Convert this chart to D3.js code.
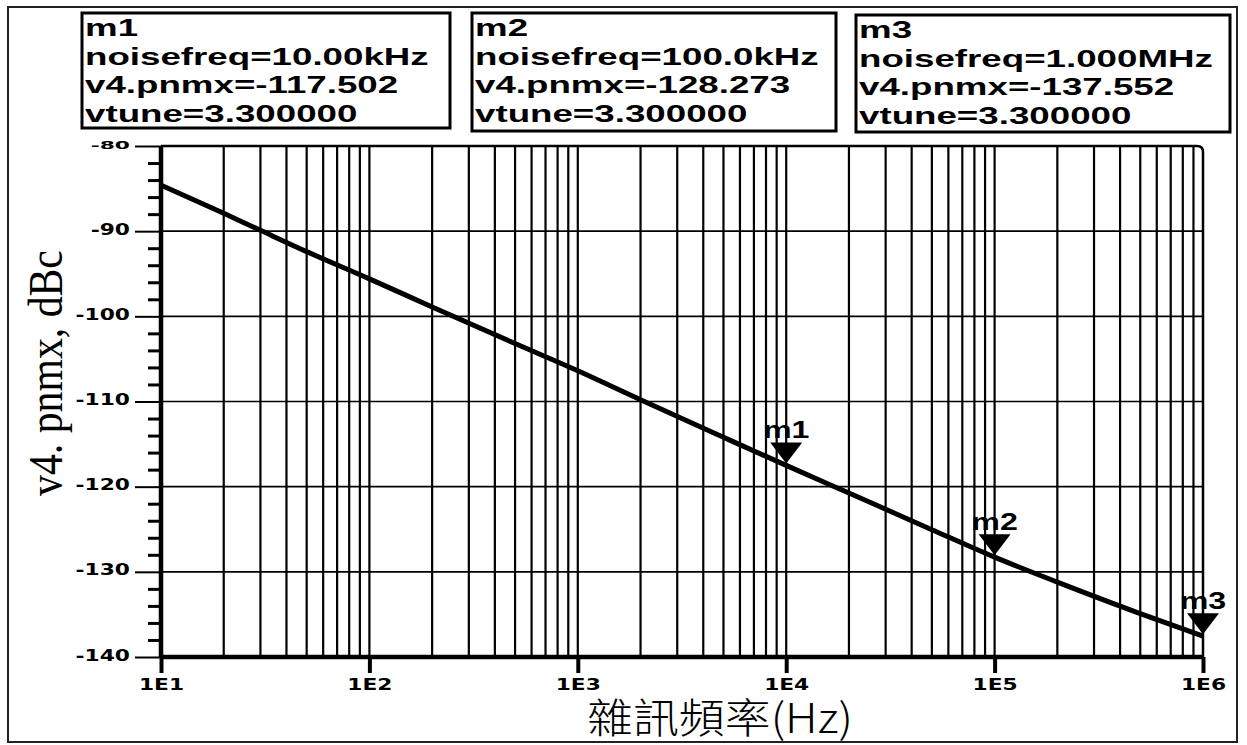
<!DOCTYPE html>
<html>
<head>
<meta charset="utf-8">
<script src="https://cdn.jsdelivr.net/npm/d3@7"></script>
<style>
  body { margin: 0; background: #fff; }
  svg { display: block; }
</style>
</head>
<body>
<svg id="chart" width="1247" height="745"></svg>
<script>
// Phase-noise sweep of v4.pnmx versus offset (noise) frequency
const freqHz  = [10, 20, 30, 50, 100, 200, 500, 1e3, 2e3, 5e3, 1e4, 2e4, 5e4, 1e5, 2e5, 5e5, 1e6];
const pnmxDbc = [-84.6, -87.9, -89.9, -92.4, -95.6, -98.9, -103.2, -106.4, -109.8, -114.2,
                 -117.502, -120.75, -125.05, -128.273, -131.2, -134.9, -137.552];

// Markers
const markerNames    = ["m1", "m2", "m3"];
const markerFreq     = [1e4, 1e5, 1e6];
const markerFreqText = ["10.00kHz", "100.0kHz", "1.000MHz"];
const markerValue    = [-117.502, -128.273, -137.552];
const vtune = 3.3;

// Axis ticks
const yTicks      = [-80, -90, -100, -110, -120, -130, -140];
const xDecades    = [1e1, 1e2, 1e3, 1e4, 1e5, 1e6];
const xTickLabels = ["1E1", "1E2", "1E3", "1E4", "1E5", "1E6"];

const svg = d3.select("#chart");
const plot = { left: 161, right: 1203, top: 146, bottom: 657 };

const x = d3.scaleLog().domain([10, 1e6]).range([plot.left, plot.right]);
const y = d3.scaleLinear().domain([-140, -80]).range([plot.bottom, plot.top]);

const sans = "'Liberation Sans', Arial, sans-serif";
const tickFont = "'DejaVu Sans', Verdana, sans-serif";
const wide = 1.53;     // readout font is drawn horizontally stretched
const tickWide = 1.36; // tick label stretch

// Outer frame
svg.append("rect")
  .attr("x", 8).attr("y", 7).attr("width", 1229).attr("height", 735)
  .attr("fill", "none").attr("stroke", "#222").attr("stroke-width", 2);

// Vertical grid at every 1..9 x decade
const gridX = x.ticks().filter(f => f > 10 && f < 1e6);
svg.append("g").selectAll("line").data(gridX).join("line")
  .attr("x1", d => x(d)).attr("x2", d => x(d))
  .attr("y1", plot.top).attr("y2", plot.bottom)
  .attr("stroke", "#000").attr("stroke-width", 2.2);

// Horizontal grid every 10 dB
svg.append("g").selectAll("line").data(yTicks.filter(v => v > -140 && v < -80)).join("line")
  .attr("x1", plot.left).attr("x2", plot.right)
  .attr("y1", d => y(d)).attr("y2", d => y(d))
  .attr("stroke", "#000").attr("stroke-width", 1.6);

// Top and right frame with rounded corner
const r = 6;
svg.append("path")
  .attr("d", `M${plot.left},${plot.top} H${plot.right - r} Q${plot.right},${plot.top} ${plot.right},${plot.top + r} V${plot.bottom}`)
  .attr("fill", "none").attr("stroke", "#000").attr("stroke-width", 2.5);

// Minor y ticks every 2 dB
const yMinor = d3.range(-138, -80, 2).filter(v => v % 10 !== 0);
const gMinor = svg.append("g").attr("transform", `translate(${plot.left},0)`)
  .call(d3.axisLeft(y).tickValues(yMinor).tickSize(13).tickFormat(""));
gMinor.select(".domain").remove();
gMinor.selectAll(".tick line").attr("stroke", "#000").attr("stroke-width", 3);

// Major y axis
const gy = svg.append("g").attr("transform", `translate(${plot.left},0)`)
  .call(d3.axisLeft(y).tickValues(yTicks).tickSize(26).tickPadding(5).tickFormat(d => String(d)));
gy.select(".domain").attr("stroke", "#000").attr("stroke-width", 4.5)
  .attr("d", `M0,${plot.top}V${plot.bottom}`);
gy.selectAll(".tick line").attr("stroke", "#000").attr("stroke-width", 2);
gy.selectAll(".tick text").each(function (d) {
  const t = d3.select(this);
  const tx = +t.attr("x");
  // top label sits tight under the readout boxes and is squeezed vertically
  const sy = d === -80 ? 0.68 : 1;
  t.attr("x", 0).attr("dy", null).attr("y", 0)
    .attr("transform", `translate(${tx},${d === -80 ? 2 : 3}) scale(${tickWide},${sy})`)
    .attr("font-family", tickFont).attr("font-weight", "bold").attr("font-size", 16)
    .attr("fill", "#000");
});

// x axis
const gx = svg.append("g").attr("transform", `translate(0,${plot.bottom})`)
  .call(d3.axisBottom(x).tickValues(xDecades).tickSize(16).tickPadding(0)
    .tickFormat((d, i) => xTickLabels[i]));
gx.select(".domain").attr("stroke", "#000").attr("stroke-width", 4.5)
  .attr("d", `M${plot.left},0H${plot.right}`);
gx.selectAll(".tick line").attr("stroke", "#000").attr("stroke-width", 4);
gx.selectAll(".tick text")
  .attr("y", 0).attr("dy", null)
  .attr("transform", `translate(0,33) scale(${tickWide},1)`)
  .attr("font-family", tickFont).attr("font-weight", "bold").attr("font-size", 16)
  .attr("fill", "#000");

// Phase-noise curve
const line = d3.line().x((d, i) => x(freqHz[i])).y(d => y(d)).curve(d3.curveMonotoneX);
svg.append("path").datum(pnmxDbc)
  .attr("d", line)
  .attr("fill", "none").attr("stroke", "#000").attr("stroke-width", 5)
  .attr("stroke-linejoin", "round");

// Marker triangles with names
const gm = svg.append("g");
markerNames.forEach((name, i) => {
  const px = x(markerFreq[i]), py = y(markerValue[i]) - 2;
  const p = d3.path();
  p.moveTo(px, py); p.lineTo(px - 16, py - 21); p.lineTo(px + 16, py - 21); p.closePath();
  gm.append("path").attr("d", p.toString()).attr("fill", "#000");
  gm.append("text")
    .attr("transform", `translate(${px},${py - 25}) scale(1.4,1)`)
    .attr("text-anchor", "middle")
    .attr("font-family", sans).attr("font-weight", "bold").attr("font-size", 23).attr("fill", "#000")
    .text(name);
});

// Marker readout boxes
const boxes = [
  { x: 82,  y: 13, w: 368, h: 115 },
  { x: 472, y: 13, w: 364, h: 118 },
  { x: 856, y: 15, w: 374, h: 117 }
];
markerNames.forEach((name, i) => {
  const b = boxes[i];
  const g = svg.append("g");
  g.append("rect").attr("x", b.x).attr("y", b.y).attr("width", b.w).attr("height", b.h)
    .attr("fill", "#fff").attr("stroke", "#000").attr("stroke-width", 3);
  const lines = [
    name,
    `noisefreq=${markerFreqText[i]}`,
    `v4.pnmx=${markerValue[i].toFixed(3)}`,
    `vtune=${vtune.toFixed(6)}`
  ];
  g.selectAll("text").data(lines).join("text")
    .attr("transform", (d, k) => `translate(${b.x + 3},${b.y + 23 + k * 28.7}) scale(${wide},1)`)
    .attr("font-family", sans).attr("font-weight", "bold").attr("font-size", 24).attr("fill", "#000")
    .text(d => d);
});

// Axis titles
svg.append("text")
  .attr("transform", "translate(62,373) rotate(-90) scale(0.87,1)")
  .attr("text-anchor", "middle")
  .attr("font-family", "'Liberation Serif', 'Times New Roman', serif")
  .attr("font-size", 48).attr("fill", "#000")
  .text("v4. pnmx, dBc");

svg.append("text")
  .attr("transform", "translate(720,733) scale(1.12,1)")
  .attr("text-anchor", "middle")
  .attr("font-family", "'Noto Sans CJK TC', 'Noto Sans CJK SC', sans-serif")
  .attr("font-weight", 300)
  .attr("font-size", 41).attr("fill", "#000")
  .text("雜訊頻率(Hz)");
</script>
</body>
</html>
